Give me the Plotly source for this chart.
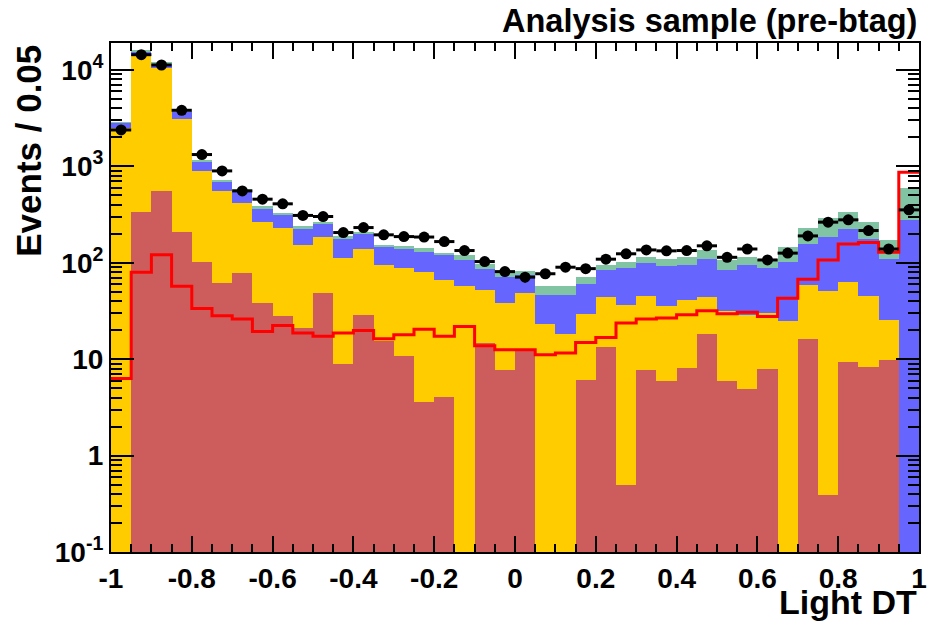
import numpy as np
import plotly.graph_objects as go

# bin edges: 40 bins of width 0.05 from -1 to 1
bin_lo = [round(-1 + 0.05 * i, 3) for i in range(40)]
bin_width = 0.05

red_bkg = [0, 335, 553, 211, 102, 61.5, 78, 38, 28, 21, 48.5, 9, 28.5, 15.3, 10.9, 3.6, 4.1, 0, 14.9, 7.7,
           12.1, 0, 0, 6.1, 13.4, 0.5, 7.7, 5.9, 8.1, 18.1, 6.0, 4.9, 7.9, 0, 16.3, 0.39, 9.3, 8.4, 9.7, 0]
yellow_bkg = [2487, 13635, 9847, 2870, 796, 491, 344, 230, 201, 133, 134.5, 103, 110.5, 80, 77, 75.8, 62.6, 56.9, 37.6, 30.5,
              36.4, 23.1, 18.2, 23.5, 30.7, 35.6, 37.8, 29.4, 32.6, 26, 25.3, 24, 22.2, 24.7, 42.9, 50.1, 54.3, 36.4, 15.6, 0]
blue_bkg = [357, 1700, 1400, 600, 224, 149, 140, 100, 90, 71, 75, 65, 64, 50, 52, 48.6, 54.3, 49, 33.5, 32.8,
            26.6, 23.5, 28.4, 31, 40.5, 51.9, 55.2, 57.8, 53.9, 65.9, 53.3, 65.7, 57.9, 78.3, 97.8, 136.5, 161.4, 131.2, 83.7, 279]
green_bkg = [26, 180, 115, 20, 18, 22, 17, 16, 13, 13, 10, 11, 8, 9, 10, 14, 5, 15, 11.7, 7.2,
             6.2, 10.3, 10.3, 10.4, 10.7, 15, 15.3, 17, 21.4, 26, 22.4, 21.4, 22, 42, 72, 103, 112, 88, 64, 315]
signal = [6.3, 80, 121, 57, 33.6, 28.2, 26.1, 19.4, 22.4, 18.7, 17.3, 18.7, 19.9, 16.3, 17.9, 20.5, 17.3, 21.9, 13.8, 12.5,
          12.5, 11.1, 11.6, 14.9, 16.8, 23.7, 26.1, 26.7, 28.9, 31.8, 29.6, 30.6, 27.8, 43, 67.7, 107, 157, 162.5, 129, 871]
data = [2388, 14420, 11270, 3820, 1327, 898, 557, 457, 409, 310, 302, 206, 232, 195, 187, 185, 166, 134, 103, 81,
        71, 77, 90, 87, 109, 124, 136, 133, 134, 150, 114, 139, 107, 126, 190, 264, 279, 216, 139, 354]

x_ticks = [-1, -0.8, -0.6, -0.4, -0.2, 0, 0.2, 0.4, 0.6, 0.8, 1]
x_ticktext = ["-1", "-0.8", "-0.6", "-0.4", "-0.2", "0", "0.2", "0.4", "0.6", "0.8", "1"]
y_ticks = [0.1, 1, 10, 100, 1000, 10000]
y_ticktext = ["10<sup>-1</sup>", "1", "10", "10<sup>2</sup>", "10<sup>3</sup>", "10<sup>4</sup>"]

centers = [lo + bin_width / 2 for lo in bin_lo]
edges = bin_lo + [1.0]

fig = go.Figure()
for vals, col in [(red_bkg, "#cd5c5c"), (yellow_bkg, "#ffcc00"), (blue_bkg, "#6666ff"), (green_bkg, "#80c4a4")]:
    fig.add_trace(go.Bar(x=centers, y=vals, width=bin_width, marker=dict(color=col, line=dict(width=0)),
                         showlegend=False, hoverinfo="skip"))

fig.add_trace(go.Scatter(x=edges, y=signal + [signal[-1]], mode="lines", line=dict(color="#ff0000", width=3, shape="hv"),
                         showlegend=False))

fig.add_trace(go.Scatter(x=centers, y=data, mode="markers",
                         marker=dict(color="black", size=11),
                         error_x=dict(type="constant", value=bin_width / 2, color="black", thickness=3, width=0),
                         error_y=dict(type="data", array=list(np.sqrt(data)), color="black", thickness=2, width=0),
                         showlegend=False))

font_fam = "Liberation Sans, Arial, Helvetica, sans-serif"

fig.update_layout(
    width=927, height=622,
    margin=dict(l=111, r=8, t=43, b=70, autoexpand=False),
    paper_bgcolor="white", plot_bgcolor="white",
    barmode="stack", bargap=0,
    font=dict(family=font_fam, color="black"),
    xaxis=dict(range=[-1, 1], tickvals=x_ticks, ticktext=x_ticktext, ticks="inside", ticklen=16, tickwidth=2,
               tickcolor="black", showgrid=False, zeroline=False, showline=True, linecolor="black", linewidth=2,
               mirror="ticks", automargin=False, layer="above traces",
               tickfont=dict(size=28, weight="bold", family=font_fam),
               minor=dict(dtick=0.05, tick0=0, ticks="inside", ticklen=8, tickwidth=2, tickcolor="black", showgrid=False)),
    yaxis=dict(type="log", range=[-1, 4.28], tickvals=y_ticks, ticktext=y_ticktext, ticks="inside", ticklen=23,
               tickwidth=2, tickcolor="black", showgrid=False, zeroline=False, showline=True, linecolor="black",
               linewidth=2, mirror="ticks", automargin=False, layer="above traces",
               tickfont=dict(size=28, weight="bold", family=font_fam),
               minor=dict(dtick="D1", ticks="inside", ticklen=11, tickwidth=2, tickcolor="black", showgrid=False)),
)

fig.add_annotation(text="Analysis sample (pre-btag)", xref="paper", yref="paper", x=1.0, y=1.043,
                   xanchor="right", yanchor="middle", showarrow=False,
                   font=dict(size=32.5, weight="bold", family=font_fam))
fig.add_annotation(text="Light DT", xref="paper", yref="paper", x=1.0, y=-0.098,
                   xanchor="right", yanchor="middle", showarrow=False,
                   font=dict(size=34, weight="bold", family=font_fam))
fig.add_annotation(text="Events / 0.05", xref="paper", yref="paper", x=-0.103, y=1.0,
                   xanchor="center", yanchor="top", textangle=-90, showarrow=False,
                   font=dict(size=35, weight="bold", family=font_fam))

fig.write_html("out.html")
